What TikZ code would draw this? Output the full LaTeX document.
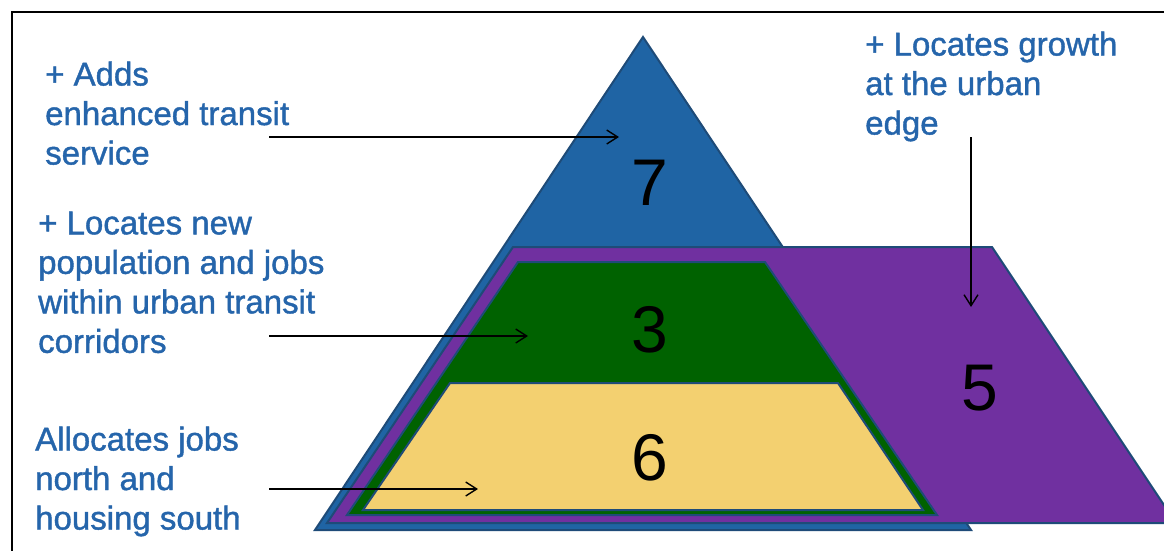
\documentclass[tikz,border=0pt]{standalone}
\usepackage{fontspec}
\setmainfont{Liberation Sans}
\newfontfamily\lblfont{Liberation Sans}[BoldFont=Liberation Sans, BoldFeatures={FakeBold=1.2}]
\usetikzlibrary{arrows.meta}
\definecolor{tribl}{RGB}{31,100,164}
\definecolor{edgebl}{RGB}{30,75,120}
\definecolor{purp}{RGB}{112,48,160}
\definecolor{grn}{RGB}{0,98,0}
\definecolor{yel}{RGB}{243,208,112}
\definecolor{txtbl}{RGB}{37,101,171}
\tikzset{
  layer/.style={draw=edgebl, line width=2pt, line join=miter},
  label/.style={text=txtbl, align=left, anchor=north west, inner sep=0pt,
                font=\lblfont\bfseries\fontsize{33}{39.5}\selectfont},
  digit/.style={inner sep=0pt, font=\fontsize{66}{66}\selectfont, text=black},
  pointer/.style={draw=black, line width=1.4pt, -{Straight Barb[length=11pt,width=14pt,line width=1.4pt]}}
}
\begin{document}
\begin{tikzpicture}[x=1pt,y=-1pt]
\useasboundingbox (0,0) rectangle (1164,550);
\path[clip] (0,0) rectangle (1164,550);
\fill[white] (0,0) rectangle (1164,550);
% frame
\draw[black, line width=2.2pt] (12,570) -- (12,12) -- (1190,12);
% layers
\path[layer, fill=tribl] (643,37) -- (971,530) -- (315,530) -- cycle;
\path[layer, fill=purp] (513,247) -- (992,247) -- (1176,523) -- (327,523) -- cycle;
\path[layer, fill=grn] (518,262) -- (765,262) -- (937,515) -- (347,515) -- cycle;
\path[layer, fill=yel] (450,383) -- (838,383) -- (923,510) -- (363,510) -- cycle;
% numbers
\node[digit] (n7) at (650,183) {7};
\node[digit] (n3) at (650,330) {3};
\node[digit] (n6) at (650,458) {6};
\node[digit] (n5) at (980,388) {5};
% labels
\node[label] (adds) at (45,61.4) {+ Adds\\enhanced transit\\service};
\node[label] (locnew) at (38,211.4) {+ Locates new\\population and jobs\\within urban transit\\corridors};
\node[label] (alloc) at (35,426.4) {Allocates jobs\\north and\\housing south};
\node[label] (growth) at (865,31.4) {+ Locates growth\\at the urban\\edge};
% connectors
\coordinate (s1) at (269,137);
\coordinate (e1) at (619,137);
\coordinate (s2) at (269,336);
\coordinate (e2) at (528,336);
\coordinate (s3) at (269,489);
\coordinate (e3) at (478,489);
\coordinate (s4) at (971,137);
\coordinate (e4) at (971,307);
\draw[pointer] (s1) -- (e1);
\draw[pointer] (s2) -- (e2);
\draw[pointer] (s3) -- (e3);
\draw[pointer] (s4) -- (e4);
\end{tikzpicture}
\end{document}
